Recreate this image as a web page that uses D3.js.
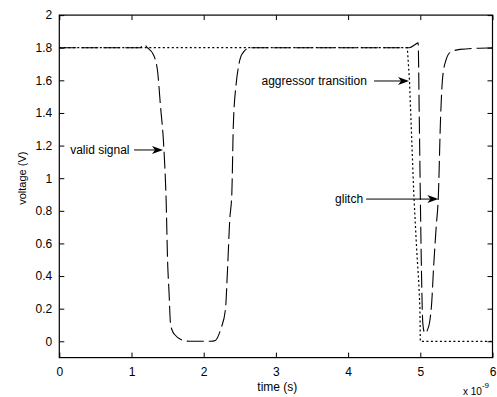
<!DOCTYPE html>
<html>
<head>
<meta charset="utf-8">
<script src="https://cdn.jsdelivr.net/npm/d3@7"></script>
<style>
  body { margin: 0; background: #fff; }
  text { font-family: "Liberation Sans", Arial, sans-serif; fill: #000; }
</style>
</head>
<body>
<svg id="chart" width="497" height="397"></svg>
<script>
// victim net (dashed): valid signal then glitch
const victimT = [0, 1.12, 1.17, 1.22, 1.30, 1.36, 1.40, 1.45, 1.48, 1.50, 1.52, 1.54, 1.57, 1.60, 1.69, 1.8, 2.0, 2.1, 2.16, 2.24, 2.30, 2.33, 2.36, 2.39, 2.41, 2.45, 2.48, 2.53, 2.64, 2.8,
                 4.85, 4.93, 4.97, 4.985, 5.0, 5.015, 5.035, 5.06, 5.1, 5.13, 5.16, 5.18, 5.22, 5.25, 5.28, 5.31, 5.36, 5.41, 5.55, 6];
const victimV = [1.8, 1.8, 1.82, 1.8, 1.76, 1.66, 1.45, 1.17, 0.86, 0.49, 0.30, 0.11, 0.06, 0.04, 0.01, 0.0, 0.0, 0.0, 0.005, 0.08, 0.19, 0.44, 0.74, 0.91, 1.32, 1.58, 1.68, 1.76, 1.80, 1.8,
                 1.8, 1.82, 1.83, 1.4, 0.9, 0.46, 0.11, 0.05, 0.07, 0.12, 0.25, 0.42, 0.7, 0.89, 1.36, 1.62, 1.73, 1.77, 1.79, 1.8];

// aggressor net (dotted)
const aggT = [0, 4.82, 4.85, 4.91, 4.95, 4.98, 4.995, 5.0, 6];
const aggV = [1.8, 1.8, 1.6, 0.9, 0.56, 0.35, 0.2, 0, 0];

// axes
const xTicks = [0, 1, 2, 3, 4, 5, 6];
const yTicks = [0, 0.2, 0.4, 0.6, 0.8, 1, 1.2, 1.4, 1.6, 1.8, 2];

// annotations
const noteLabels = ['valid signal', 'aggressor transition', 'glitch'];
const noteTextT = [0.15, 2.80, 3.82];
const noteTailT = [1.035, 4.36, 4.25];
const noteTipT = [1.436, 4.844, 5.25];
const noteV = [1.173, 1.596, 0.872];

const margin = { top: 15.1, right: 4.5, bottom: 39.4, left: 59.3 };
const width = 497 - margin.left - margin.right;
const height = 397 - margin.top - margin.bottom;

const svg = d3.select('#chart');
const g = svg.append('g').attr('transform', `translate(${margin.left}, ${margin.top})`);

const x = d3.scaleLinear().domain([0, 6]).range([0, width]);
const y = d3.scaleLinear().domain([-0.1, 2]).range([height, 0]);

// axes with inward ticks on all four sides
const xAxis = d3.axisBottom(x).tickValues(xTicks).tickSizeInner(-5).tickSizeOuter(0).tickPadding(10).tickFormat(d3.format('d'));
const yAxis = d3.axisLeft(y).tickValues(yTicks).tickSizeInner(-5).tickSizeOuter(0).tickPadding(7).tickFormat(d => d3.format('')(d));

g.append('g').attr('transform', `translate(0, ${height})`).call(xAxis);
g.append('g').call(yAxis);
g.append('g').call(d3.axisTop(x).tickValues(xTicks).tickSizeInner(-5).tickSizeOuter(0).tickFormat(''));
g.append('g').attr('transform', `translate(${width}, 0)`).call(d3.axisRight(y).tickValues(yTicks).tickSizeInner(-5).tickSizeOuter(0).tickFormat(''));

g.selectAll('.tick line').attr('stroke', '#000');
g.selectAll('.domain').remove();
g.selectAll('.tick text').attr('font-size', '12px').attr('font-family', '"Liberation Sans", Arial, sans-serif');

g.append('rect')
    .attr('x', 0).attr('y', 0)
    .attr('width', width).attr('height', height)
    .attr('fill', 'none')
    .attr('stroke', '#000')
    .attr('stroke-width', 1.2);

// curves
const aggLine = d3.line()
    .x((d, i) => x(aggT[i]))
    .y((d, i) => y(aggV[i]));
g.append('path')
    .attr('d', aggLine(aggT))
    .attr('fill', 'none')
    .attr('stroke', '#000')
    .attr('stroke-width', 1.2)
    .attr('stroke-dasharray', '2,2.5');

const victimLine = d3.line()
    .curve(d3.curveMonotoneX)
    .x((d, i) => x(victimT[i]))
    .y((d, i) => y(victimV[i]));
g.append('path')
    .attr('d', victimLine(victimT))
    .attr('fill', 'none')
    .attr('stroke', '#000')
    .attr('stroke-width', 1.1)
    .attr('stroke-dasharray', '17,5');

// annotations
noteLabels.forEach((label, i) => {
    const yy = y(noteV[i]);
    g.append('text')
        .attr('x', x(noteTextT[i]))
        .attr('y', yy)
        .attr('dy', '0.35em')
        .attr('font-size', '12px')
        .text(label);
    const tip = x(noteTipT[i]);
    g.append('line')
        .attr('x1', x(noteTailT[i])).attr('y1', yy)
        .attr('x2', tip - 8).attr('y2', yy)
        .attr('stroke', '#000')
        .attr('stroke-width', 1);
    g.append('path')
        .attr('d', `M${tip},${yy} L${tip - 11},${yy - 4} L${tip - 8},${yy} L${tip - 11},${yy + 4} Z`)
        .attr('fill', '#000');
});

// axis titles
svg.append('text')
    .attr('x', margin.left + x(3.02))
    .attr('y', 391)
    .attr('text-anchor', 'middle')
    .attr('font-size', '12px')
    .text('time (s)');

svg.append('text')
    .attr('transform', `translate(26, ${margin.top + y(1.0)}) rotate(-90)`)
    .attr('text-anchor', 'middle')
    .attr('font-size', '11px')
    .text('voltage (V)');

// exponent label
const expo = svg.append('text')
    .attr('x', 463)
    .attr('y', 395)
    .attr('font-size', '10px');
expo.append('tspan').text('x 10');
expo.append('tspan').attr('dy', -7).attr('font-size', '8px').text('-9');
</script>
</body>
</html>
